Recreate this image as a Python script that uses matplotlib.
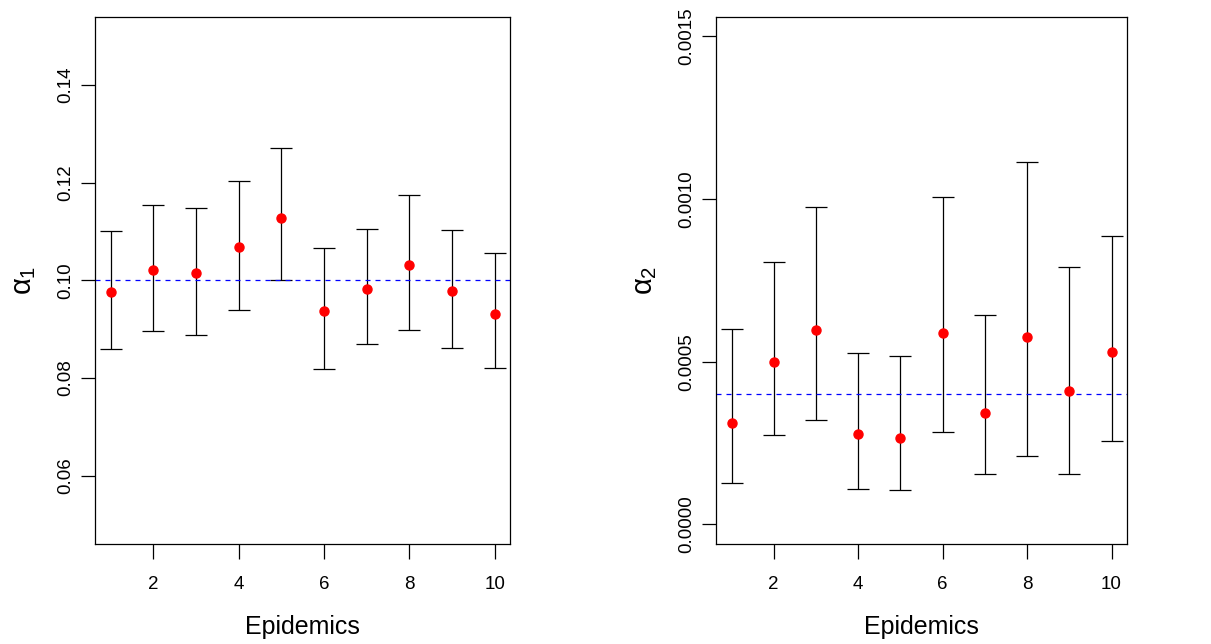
import numpy as np
import matplotlib
matplotlib.use("Agg")
import matplotlib.pyplot as plt

plt.rcParams['font.family'] = ['Liberation Sans', 'DejaVu Sans']
plt.rcParams['mathtext.fontset'] = 'custom'
plt.rcParams['mathtext.rm'] = 'Liberation Sans'
plt.rcParams['mathtext.it'] = 'Liberation Sans'

epidemics = np.arange(1, 11)

# alpha_1 estimates with interval bounds
alpha1_est = [0.0977, 0.1022, 0.1016, 0.1068, 0.1128, 0.0938, 0.0983, 0.1031, 0.0979, 0.0932]
alpha1_low = [0.0860, 0.0897, 0.0889, 0.0940, 0.1000, 0.0819, 0.0869, 0.0899, 0.0862, 0.0820]
alpha1_up = [0.1102, 0.1154, 0.1149, 0.1203, 0.1272, 0.1067, 0.1106, 0.1175, 0.1104, 0.1055]
alpha1_true = 0.10

# alpha_2 estimates with interval bounds
alpha2_est = [0.000311, 0.000500, 0.000597, 0.000279, 0.000265, 0.000587, 0.000342, 0.000575, 0.000409, 0.000530]
alpha2_low = [0.000126, 0.000276, 0.000321, 0.000110, 0.000106, 0.000284, 0.000155, 0.000209, 0.000156, 0.000256]
alpha2_up = [0.000601, 0.000806, 0.000974, 0.000527, 0.000519, 0.001007, 0.000644, 0.001114, 0.000790, 0.000885]
alpha2_true = 0.0004

fig = plt.figure(figsize=(12.11, 6.44), dpi=100)
ax1 = fig.add_axes([0.0787, 0.1553, 0.3424, 0.8188])
ax2 = fig.add_axes([0.5915, 0.1553, 0.3389, 0.8188])


def panel(ax, est, low, up, true, ylim, yticks, yticklabels, ylabel):
    est = np.array(est)
    err = [est - np.array(low), np.array(up) - est]
    ax.errorbar(epidemics, est, yerr=err, fmt='none', ecolor='black',
                elinewidth=0.9, capsize=7.7, capthick=0.9)
    ax.plot(epidemics, est, 'o', color='red', markersize=6.5, zorder=3)
    ax.axhline(true, color='blue', lw=0.9, dashes=(4, 4))
    r = 9 * 0.04
    ax.set_xlim(1 - r, 10 + r)
    d = (ylim[1] - ylim[0]) * 0.04
    ax.set_ylim(ylim[0] - d, ylim[1] + d)
    ax.set_xticks([2, 4, 6, 8, 10])
    ax.set_yticks(yticks)
    ax.set_yticklabels(yticklabels, rotation=90, va='center')
    ax.tick_params(axis='x', length=11, width=0.9, labelsize=13.5, pad=12)
    ax.tick_params(axis='y', length=10, width=0.9, labelsize=13.5, pad=5)
    for s in ax.spines.values():
        s.set_linewidth(0.9)
    ax.set_xlabel('Epidemics', fontsize=18, labelpad=16)
    ax.set_ylabel(ylabel, fontsize=21, labelpad=14)


panel(ax1, alpha1_est, alpha1_low, alpha1_up, alpha1_true, (0.05, 0.15),
      [0.06, 0.08, 0.10, 0.12, 0.14], ['0.06', '0.08', '0.10', '0.12', '0.14'],
      r'$\alpha_1$')
panel(ax2, alpha2_est, alpha2_low, alpha2_up, alpha2_true, (0.0, 0.0015),
      [0.0, 0.0005, 0.0010, 0.0015], ['0.0000', '0.0005', '0.0010', '0.0015'],
      r'$\alpha_2$')

fig.savefig('out.png', dpi=100)
